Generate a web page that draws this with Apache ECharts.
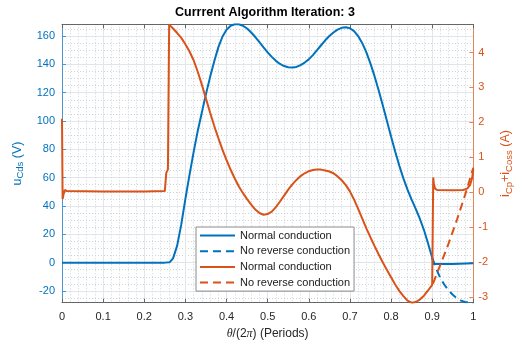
<!DOCTYPE html>
<html>
<head>
<meta charset="utf-8">
<script src="https://cdn.jsdelivr.net/npm/echarts@6/dist/echarts.min.js"></script>
<style>
  html, body { margin: 0; padding: 0; background: #fff; }
  #chart { width: 522px; height: 345px; }
</style>
</head>
<body>
<div id="chart"></div>
<script>
// Switch voltage / current over one period, normal vs. no reverse conduction
const titleText = 'Currrent Algorithm Iteration: 3';
const legendNames = ['uN', 'uNR', 'iN', 'iNR'];
const legendLabels = ['Normal conduction', 'No reverse conduction', 'Normal conduction', 'No reverse conduction'];

const periodTicks = [0, 0.1, 0.2, 0.3, 0.4, 0.5, 0.6, 0.7, 0.8, 0.9, 1];
const voltTicks = [-20, 0, 20, 40, 60, 80, 100, 120, 140, 160];
const voltMinorTicks = [-25, -15, -10, -5, 5, 10, 15, 25, 30, 35, 45, 50, 55, 65, 70, 75, 85, 90, 95,
  105, 110, 115, 125, 130, 135, 145, 150, 155, 165];
const currTicks = [-3, -2, -1, 0, 1, 2, 3, 4];

// u_Cds, normal conduction (V)
const thetaU = [0, 0.1, 0.2, 0.25, 0.262, 0.27, 0.28, 0.29, 0.30, 0.31, 0.32, 0.33, 0.34, 0.35, 0.36, 0.37,
  0.38, 0.39, 0.40, 0.41, 0.42, 0.43, 0.44, 0.45, 0.46, 0.47, 0.48, 0.49, 0.50, 0.51, 0.52, 0.53, 0.54,
  0.55, 0.56, 0.57, 0.58, 0.59, 0.60, 0.61, 0.62, 0.63, 0.64, 0.65, 0.66, 0.67, 0.68, 0.69, 0.70, 0.71,
  0.72, 0.73, 0.74, 0.75, 0.76, 0.77, 0.78, 0.79, 0.80, 0.81, 0.82, 0.83, 0.84, 0.85, 0.86, 0.87, 0.88,
  0.89, 0.90, 0.903, 0.95, 1.0];
const uNormal = [0, 0, 0, 0, 0.3, 3, 12, 27, 45, 62, 78, 93, 106, 119, 131, 142,
  152, 159.5, 164.5, 167.3, 168.3, 168.3, 167.3, 165.3, 162.5, 159.3, 155.7, 152, 148.5, 145.3, 142.5, 140.3, 138.8,
  138, 137.8, 138.2, 139.5, 141.3, 143.5, 146.5, 150, 153.5, 157, 160, 162.5, 164.5, 165.8, 166.2, 165.5, 163.5,
  160, 155, 148.5, 140.5, 131.5, 121.5, 111, 100, 89, 78.5, 68.5, 59.5, 51.5, 44.5, 38, 31, 23,
  13.5, 3.5, -1, -0.9, -0.5];

// u_Cds, no reverse conduction (V)
const thetaUNoRev = [0.90, 0.91, 0.92, 0.93, 0.94, 0.95, 0.96, 0.97, 0.98, 0.99, 1.0];
const uNoRev = [3.5, -4.5, -11, -15.8, -19.6, -22.7, -25.1, -26.8, -27.8, -28.2, -28.3];

// i_Cp + i_Coss, normal conduction (A)
const thetaI = [0, 0.0015, 0.004, 0.007, 0.012, 0.1, 0.2, 0.25, 0.2525, 0.2535, 0.2575, 0.2605,
  0.27, 0.28, 0.29, 0.30, 0.31, 0.32, 0.33, 0.34, 0.35, 0.36, 0.37, 0.38, 0.39, 0.40, 0.41, 0.42, 0.43,
  0.44, 0.45, 0.46, 0.47, 0.48, 0.49, 0.50, 0.51, 0.52, 0.53, 0.54, 0.55, 0.56, 0.57, 0.58, 0.59, 0.60,
  0.61, 0.62, 0.63, 0.64, 0.65, 0.66, 0.67, 0.68, 0.69, 0.70, 0.71, 0.72, 0.73, 0.74, 0.75, 0.76, 0.77,
  0.78, 0.79, 0.80, 0.81, 0.82, 0.83, 0.84, 0.85, 0.86, 0.87, 0.88, 0.89, 0.90, 0.902, 0.9025, 0.904,
  0.907, 0.912, 0.95, 0.975, 0.985, 0.992, 0.997, 1.0];
const iNormal = [2.1, -0.2, -0.05, 0.06, 0.03, 0.02, 0.02, 0.03, 0.08, 0.55, 0.65, 4.8,
  4.69, 4.56, 4.42, 4.24, 4.03, 3.78, 3.45, 3.08, 2.68, 2.28, 1.90, 1.55, 1.22, 0.92, 0.64, 0.39, 0.16,
  -0.03, -0.2, -0.36, -0.5, -0.6, -0.65, -0.63, -0.56, -0.43, -0.27, -0.1, 0.07, 0.22, 0.35, 0.46, 0.54, 0.6,
  0.635, 0.65, 0.645, 0.62, 0.59, 0.54, 0.45, 0.34, 0.2, 0.02, -0.21, -0.48, -0.76, -1.04, -1.3, -1.55, -1.79,
  -2.02, -2.23, -2.44, -2.65, -2.83, -2.98, -3.11, -3.17, -3.15, -3.08, -2.97, -2.82, -2.66, -2.62, 0.42, 0.25,
  0.1, 0.06, 0.05, 0.06, 0.1, 0.2, 0.4, 0.65];

// i_Cp + i_Coss, no reverse conduction (A)
const thetaINoRev = [0.902, 0.92, 0.94, 0.96, 0.98, 1.0];
const iNoRev = [-2.62, -2.08, -1.47, -0.8, -0.08, 0.7];

const BLUE = '#0072BD';
const RED = '#D95319';
const FONT = '"Liberation Sans", Arial, Helvetica, sans-serif';

const pairs = (xs, ys) => xs.map((x, k) => [x, ys[k]]);

const chart = echarts.init(document.getElementById('chart'), null, { renderer: 'canvas' });

const majorGrid = { show: true, lineStyle: { color: '#e2e6ea', width: 1 } };
const minorGrid = { show: true, lineStyle: { color: '#cdd5dc', width: 1, type: [1, 2] } };

chart.setOption({
  animation: false,
  backgroundColor: '#fff',
  textStyle: { fontFamily: FONT },
  title: {
    text: titleText,
    left: 175,
    top: 6,
    padding: 0,
    textStyle: { fontSize: 12.5, fontWeight: 'bold', color: '#000', fontFamily: FONT }
  },
  grid: { left: 62, right: 44.3, top: 24.3, bottom: 42.3 },
  legend: {
    orient: 'vertical',
    left: 196,
    top: 227,
    data: legendNames,
    formatter: (n) => legendLabels[legendNames.indexOf(n)],
    itemWidth: 35,
    itemHeight: 10,
    itemGap: 4.7,
    padding: [3, 4, 3, 3],
    backgroundColor: '#fff',
    borderColor: '#8a8a8a',
    borderWidth: 1,
    selectedMode: false,
    itemStyle: { opacity: 0 },
    textStyle: { fontSize: 11, color: '#1a1a1a', fontFamily: FONT }
  },
  xAxis: [
    {
      type: 'value', min: 0, max: 1, interval: 0.1, position: 'bottom',
      axisLine: { show: true, onZero: false, lineStyle: { color: '#666', width: 1 } },
      axisTick: { show: true, inside: true, length: 4, lineStyle: { color: '#666' } },
      axisLabel: {
        color: '#262626', fontSize: 11, margin: 9, fontFamily: FONT,
        formatter: (v) => String(+v.toFixed(1))
      },
      splitLine: majorGrid,
      minorTick: { show: false, splitNumber: 5 },
      minorSplitLine: minorGrid,
      name: '{i|θ}/(2{i|π}) (Periods)',
      nameLocation: 'middle',
      nameGap: 24,
      nameTextStyle: {
        color: '#262626', fontSize: 12, fontFamily: FONT,
        rich: { i: { fontStyle: 'italic', fontSize: 12, fontFamily: '"Liberation Serif", serif', color: '#262626' } }
      }
    },
    {
      type: 'value', min: 0, max: 1, interval: 0.1, position: 'top',
      axisLine: { show: true, onZero: false, lineStyle: { color: '#666', width: 1 } },
      axisTick: { show: true, inside: true, length: 4, lineStyle: { color: '#666' } },
      axisLabel: { show: false },
      splitLine: { show: false }
    }
  ],
  yAxis: [
    {
      type: 'value', position: 'left', min: -28.3, max: 168.3,
      axisLine: { show: true, onZero: false, lineStyle: { color: '#4b97d2', width: 1 } },
      axisTick: { show: true, inside: true, length: 4, customValues: voltTicks, lineStyle: { color: '#4b97d2' } },
      axisLabel: { customValues: voltTicks, color: BLUE, fontSize: 11, margin: 7, fontFamily: FONT },
      splitLine: majorGrid,
      name: '{a|u}{b|Cds}{a| (V)}',
      nameLocation: 'middle',
      nameGap: 30,
      nameRotate: 90,
      nameTextStyle: {
        color: BLUE, fontSize: 12.5, fontFamily: FONT,
        rich: {
          a: { fontSize: 12.5, color: BLUE, fontFamily: FONT },
          b: { fontSize: 9.5, color: BLUE, fontFamily: FONT, padding: [7, 0, 0, 0] }
        }
      }
    },
    {
      type: 'value', position: 'right', min: -3.17, max: 4.81,
      axisLine: { show: true, onZero: false, lineStyle: { color: '#e5845a', width: 1 } },
      axisTick: { show: true, inside: true, length: 4, customValues: currTicks, lineStyle: { color: '#e5845a' } },
      axisLabel: { customValues: currTicks, color: RED, fontSize: 11, margin: 5, fontFamily: FONT },
      splitLine: { show: false },
      name: '{a|i}{b|Cp}{a|+i}{b|Coss}{a| (A)}',
      nameLocation: 'middle',
      nameGap: 22,
      nameRotate: 90,
      nameTextStyle: {
        color: RED, fontSize: 12.5, fontFamily: FONT,
        rich: {
          a: { fontSize: 12.5, color: RED, fontFamily: FONT },
          b: { fontSize: 9.5, color: RED, fontFamily: FONT, padding: [7, 0, 0, 0] }
        }
      }
    },
    {
      // minor grid only
      type: 'value', position: 'left', min: -28.3, max: 168.3,
      axisLine: { show: false, onZero: false },
      axisTick: { show: false, customValues: voltMinorTicks },
      axisLabel: { show: false, customValues: voltMinorTicks },
      splitLine: minorGrid
    }
  ],
  series: [
    {
      name: 'uN', type: 'line', xAxisIndex: 0, yAxisIndex: 0, symbol: 'none',
      data: pairs(thetaU, uNormal),
      lineStyle: { color: BLUE, width: 2 }, itemStyle: { color: BLUE }
    },
    {
      name: 'uNR', type: 'line', xAxisIndex: 0, yAxisIndex: 0, symbol: 'none',
      data: pairs(thetaUNoRev, uNoRev),
      lineStyle: { color: BLUE, width: 2, type: [8, 5] }, itemStyle: { color: BLUE }
    },
    {
      name: 'iN', type: 'line', xAxisIndex: 0, yAxisIndex: 1, symbol: 'none',
      data: pairs(thetaI, iNormal),
      lineStyle: { color: RED, width: 2 }, itemStyle: { color: RED }
    },
    {
      name: 'iNR', type: 'line', xAxisIndex: 0, yAxisIndex: 1, symbol: 'none',
      data: pairs(thetaINoRev, iNoRev),
      lineStyle: { color: RED, width: 2, type: [8, 5] }, itemStyle: { color: RED }
    }
  ]
});
</script>
</body>
</html>
